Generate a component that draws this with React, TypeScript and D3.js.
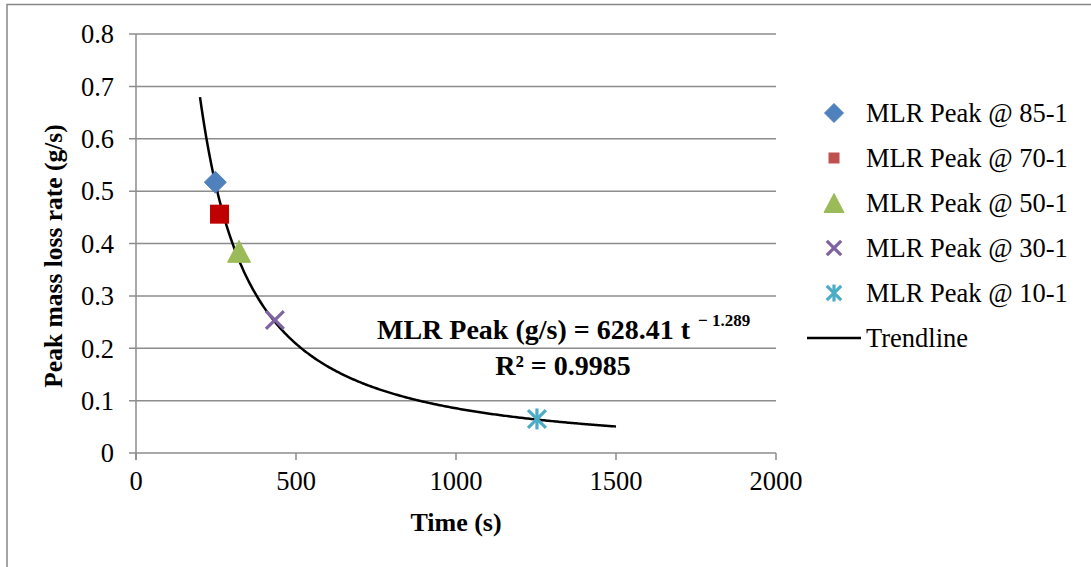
import React from "react";
import * as d3 from "d3";

const seriesNames = ["MLR Peak @ 85-1", "MLR Peak @ 70-1", "MLR Peak @ 50-1", "MLR Peak @ 30-1", "MLR Peak @ 10-1"];
const timeValues = [248, 261, 322, 434, 1253];
const mlrValues = [0.517, 0.456, 0.385, 0.254, 0.065];
const markerTypes = ["diamond", "square", "triangle", "x", "star"];
const markerColors = ["#4F81BD", "#C00000", "#9BBB59", "#8064A2", "#4BACC6"];
const legendColors = ["#4F81BD", "#C0504D", "#9BBB59", "#8064A2", "#4BACC6"];
const xTicks = [0, 500, 1000, 1500, 2000];
const yTicks = [0, 0.1, 0.2, 0.3, 0.4, 0.5, 0.6, 0.7, 0.8];
const trendCoef = 628.41;
const trendExp = -1.289;
const trendRange = [200, 1500];

const W = 1091, H = 567;
const M = { left: 136, right: 776, top: 34, bottom: 453 };
const FONT = "'Liberation Serif', 'Times New Roman', serif";

function Marker({ type, cx, cy, size, color }: { type: string; cx: number; cy: number; size: number; color: string }) {
  const s = size / 2;
  if (type === "diamond") {
    return <path d={`M${cx},${cy - s}L${cx + s},${cy}L${cx},${cy + s}L${cx - s},${cy}Z`} fill={color} stroke={color} strokeWidth={1} strokeLinejoin="round" />;
  }
  if (type === "square") {
    return <rect x={cx - s} y={cy - s} width={size} height={size} fill={color} />;
  }
  if (type === "triangle") {
    const h = size * 0.95;
    return <path d={`M${cx},${cy - h / 2}L${cx + s},${cy + h / 2}L${cx - s},${cy + h / 2}Z`} fill={color} stroke={color} strokeWidth={1} strokeLinejoin="round" />;
  }
  if (type === "x") {
    const r = s * 0.85;
    return (
      <g stroke={color} strokeWidth={3.2}>
        <line x1={cx - r} y1={cy - r} x2={cx + r} y2={cy + r} />
        <line x1={cx - r} y1={cy + r} x2={cx + r} y2={cy - r} />
      </g>
    );
  }
  const r = s * 0.85;
  return (
    <g stroke={color} strokeWidth={3.2}>
      <line x1={cx - r} y1={cy - r} x2={cx + r} y2={cy + r} />
      <line x1={cx - r} y1={cy + r} x2={cx + r} y2={cy - r} />
      <line x1={cx} y1={cy - s} x2={cx} y2={cy + s} />
    </g>
  );
}

export default function App() {
  const x = d3.scaleLinear().domain([0, 2000]).range([M.left, M.right]);
  const y = d3.scaleLinear().domain([0, 0.8]).range([M.bottom, M.top]);

  const trendPts = d3.range(trendRange[0], trendRange[1] + 1, 5).map((t) => [t, trendCoef * Math.pow(t, trendExp)] as [number, number]);
  const line = d3.line<[number, number]>().x((d) => x(d[0])).y((d) => y(d[1])).curve(d3.curveLinear);

  const legendY = [113, 158, 203, 248, 293];
  const legendSizes = [19, 11, 20, 17, 17];
  const plotSizes = [22, 19, 23, 21, 21];

  return (
    <svg width={W} height={H} style={{ position: "absolute", left: 0, top: 0, background: "#fff" }} fontFamily={FONT}>
      <rect x={7} y={4.5} width={W + 10} height={H + 10} fill="#fff" stroke="#888" strokeWidth={1.5} />
      {yTicks.map((t) => (
        <g key={t}>
          <line x1={M.left - 7} x2={M.right} y1={y(t)} y2={y(t)} stroke="#8c8c8c" strokeWidth={1.5} />
          <text x={114} y={y(t)} dy="0.35em" textAnchor="end" fontSize={26.5} fill="#000">{d3.format("")(t)}</text>
        </g>
      ))}
      <line x1={M.left} x2={M.left} y1={M.top} y2={M.bottom + 7} stroke="#8c8c8c" strokeWidth={1.5} />
      {xTicks.map((t) => (
        <g key={t}>
          <line x1={x(t)} x2={x(t)} y1={M.bottom} y2={M.bottom + 7} stroke="#8c8c8c" strokeWidth={1.5} />
          <text x={x(t)} y={490} textAnchor="middle" fontSize={26.5} fill="#000">{t}</text>
        </g>
      ))}
      <text x={456} y={531} textAnchor="middle" fontSize={26} fontWeight="bold">Time (s)</text>
      <text transform="translate(62,256) rotate(-90)" textAnchor="middle" fontSize={25.5} fontWeight="bold">Peak mass loss rate (g/s)</text>

      <path d={line(trendPts) || ""} fill="none" stroke="#000" strokeWidth={2.5} />

      {timeValues.map((t, i) => (
        <Marker key={i} type={markerTypes[i]} cx={x(t)} cy={y(mlrValues[i])} size={plotSizes[i]} color={markerColors[i]} />
      ))}

      <text x={377} y={339} fontSize={28} fontWeight="bold">
        MLR Peak (g/s) = 628.41 t
        <tspan dx={8} dy={-13} fontSize={17}>− 1.289</tspan>
      </text>
      <text x={563} y={375} textAnchor="middle" fontSize={28} fontWeight="bold">R² = 0.9985</text>

      {seriesNames.map((n, i) => (
        <g key={n}>
          <Marker type={markerTypes[i]} cx={834} cy={legendY[i]} size={legendSizes[i]} color={legendColors[i]} />
          <text x={866} y={legendY[i]} dy="0.35em" fontSize={26.5}>{n}</text>
        </g>
      ))}
      <line x1={807} x2={861} y1={338} y2={338} stroke="#000" strokeWidth={2.5} />
      <text x={866} y={338} dy="0.35em" fontSize={26.5}>Trendline</text>
    </svg>
  );
}
